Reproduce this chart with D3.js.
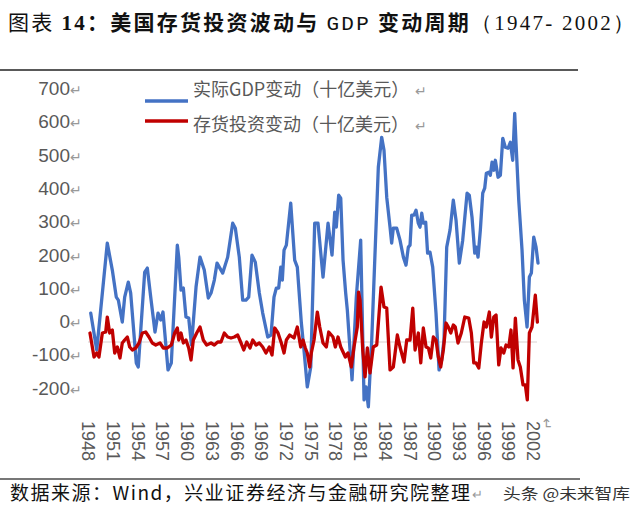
<!DOCTYPE html>
<html>
<head>
<meta charset="utf-8">
<script src="https://cdn.jsdelivr.net/npm/d3@7"></script>
<style>
  body { margin: 0; background: #fff; }
  svg { display: block; }
</style>
</head>
<body>
<svg id="chart" width="640" height="514"></svg>
<script>
// 实际GDP变动（十亿美元）
const gdpYears = [1948.33, 1949.06, 1950.34, 1950.95, 1951.43, 1951.68, 1952.16, 1952.45, 1952.89, 1953.18,
  1953.86, 1954.10, 1954.88, 1955.20, 1955.61, 1956.13, 1956.50, 1956.82, 1957.10, 1957.71,
  1958.11, 1958.84, 1959.01, 1959.29, 1959.57, 1959.89, 1960.22, 1960.56, 1961.11, 1961.59,
  1962.11, 1962.60, 1962.93, 1963.33, 1963.66, 1963.93, 1964.35, 1964.95, 1965.56, 1965.88,
  1966.36, 1966.77, 1967.17, 1967.50, 1967.90, 1968.30, 1968.79, 1969.20, 1969.81, 1970.21,
  1970.57, 1970.85, 1971.14, 1971.39, 1971.58, 1971.79, 1972.07, 1972.60, 1973.08, 1973.40,
  1973.89, 1974.21, 1974.61, 1975.03, 1975.51, 1975.91, 1976.52, 1977.13, 1977.61, 1977.94,
  1978.13, 1978.42, 1978.67, 1978.95, 1979.27, 1979.47, 1980.04, 1980.56, 1981.09, 1981.50,
  1981.74, 1982.02, 1982.43, 1982.83, 1983.23, 1983.64, 1983.92, 1984.25, 1984.65, 1984.85,
  1985.05, 1985.46, 1985.86, 1986.27, 1986.59, 1986.87, 1987.08, 1987.28, 1987.56, 1987.81,
  1988.08, 1988.29, 1988.50, 1988.69, 1988.98, 1989.21, 1989.50, 1989.83, 1990.23, 1990.60,
  1990.92, 1991.20, 1991.53, 1991.93, 1992.33, 1992.66, 1993.06, 1993.47, 1994.00, 1994.27,
  1994.60, 1994.93, 1995.12, 1995.33, 1995.61, 1995.90, 1996.14, 1996.34, 1996.63, 1996.82,
  1997.03, 1997.24, 1997.43, 1997.76, 1998.04, 1998.33, 1998.64, 1998.97, 1999.25, 1999.54,
  1999.78, 1999.94, 2000.27, 2000.67, 2000.95, 2001.28, 2001.56, 2001.80, 2002.09, 2002.37,
  2002.61];
const gdpValues = [87, -24, 297, 216, 135, 126, 60, 135, 180, 147,
  -63, -75, 210, 222, 135, 30, 87, 66, 90, -84,
  -63, 291, 255, 156, 162, 75, 72, -9, 165, 255,
  216, 132, 147, 186, 237, 225, 207, 255, 357, 342,
  255, 126, 126, 135, 261, 240, 147, 87, 15, 21,
  135, 162, 162, 225, 186, 276, 291, 417, 246, 225,
  57, -24, -135, -75, 357, 357, 195, 357, 261, 390,
  345, 441, 432, 246, 147, 96, -114, 135, 306, -174,
  -135, -195, 6, 267, 525, 615, 576, 435, 345, 297,
  342, 342, 306, 255, 231, 285, 291, 381, 381, 396,
  357, 345, 387, 357, 360, 267, 270, 225, 87, -84,
  -54, 6, 285, 336, 426, 366, 237, 306, 447, 441,
  375, 267, 285, 255, 336, 447, 462, 507, 510, 501,
  540, 516, 546, 495, 501, 612, 585, 582, 600, 546,
  687, 597, 426, 276, 126, 45, 195, 207, 315, 285,
  237];

// 存货投资变动（十亿美元）
const invYears = [1948.24, 1948.73, 1949.06, 1949.33, 1949.74, 1950.15, 1950.34, 1950.63, 1950.95, 1951.24,
  1951.56, 1951.88, 1952.16, 1952.45, 1952.77, 1953.06, 1953.38, 1953.79, 1954.19, 1954.59,
  1955.00, 1955.40, 1955.80, 1956.22, 1956.74, 1957.14, 1957.62, 1958.11, 1958.52, 1958.84,
  1959.01, 1959.29, 1959.57, 1959.89, 1960.22, 1960.50, 1960.78, 1961.19, 1961.59, 1961.99,
  1962.40, 1962.93, 1963.33, 1963.74, 1964.14, 1964.54, 1964.95, 1965.35, 1965.76, 1966.17,
  1966.57, 1966.90, 1967.26, 1967.66, 1967.99, 1968.39, 1968.79, 1969.20, 1969.60, 1970.00,
  1970.33, 1970.66, 1971.06, 1971.46, 1971.79, 1972.07, 1972.48, 1973.00, 1973.40, 1973.81,
  1974.09, 1974.37, 1974.61, 1974.90, 1975.10, 1975.43, 1975.83, 1976.12, 1976.52, 1976.92,
  1977.21, 1977.73, 1978.01, 1978.34, 1978.67, 1978.95, 1979.23, 1979.55, 1979.95, 1980.28,
  1980.68, 1980.83, 1981.01, 1981.34, 1981.62, 1981.90, 1982.22, 1982.62, 1983.04, 1983.56,
  1983.92, 1984.25, 1984.65, 1985.05, 1985.54, 1985.86, 1986.35, 1986.68, 1987.08, 1987.41,
  1987.69, 1988.09, 1988.38, 1988.69, 1989.02, 1989.30, 1989.59, 1989.91, 1990.23, 1990.51,
  1990.80, 1991.12, 1991.45, 1991.73, 1992.02, 1992.33, 1992.57, 1992.90, 1993.30, 1993.72,
  1994.20, 1994.52, 1994.81, 1995.09, 1995.42, 1995.73, 1996.06, 1996.34, 1996.70, 1996.95,
  1997.24, 1997.52, 1997.84, 1998.12, 1998.45, 1998.73, 1999.06, 1999.33, 1999.58, 1999.86,
  2000.18, 2000.46, 2000.79, 2001.07, 2001.31, 2001.56, 2001.88, 2002.28, 2002.53];
const invValues = [27, -45, -33, -45, 27, 30, 75, 27, 36, -33,
  -15, -48, -3, 6, 15, -15, -24, -18, -3, 27,
  30, 15, -3, -9, -3, -18, -18, -9, 27, 42,
  6, 27, -3, 6, -18, -54, 6, 27, 45, 6,
  -9, -3, -9, 0, 0, 27, 15, 12, 15, 21,
  -3, -24, 0, -18, 6, -9, -3, -15, -33, -15,
  -39, 42, 27, -3, -33, 6, 21, 12, 45, -15,
  6, -18, -33, -75, -33, 6, 90, 45, -3, -15,
  30, 15, -15, 15, -15, -30, -45, -33, -75, -15,
  45, 150, 126, -24, -105, -18, -93, -15, -9, 165,
  105, 102, -84, -75, 21, -15, -60, 6, 6, 102,
  -24, 27, -63, 42, -15, -18, -48, 15, 6, -45,
  -75, -24, 57, 45, 27, 51, 45, -3, 27, 75,
  72, 27, -63, -63, -78, -3, 60, 45, 90, 15,
  75, 81, -69, -18, -33, -9, -15, 36, -78, 72,
  -54, -75, -129, -129, -174, 27, 45, 141, 60];

const yTicks = [-200, -100, 0, 100, 200, 300, 400, 500, 600, 700];
const xTicks = [1948, 1951, 1954, 1957, 1960, 1963, 1966, 1969, 1972, 1975,
  1978, 1981, 1984, 1987, 1990, 1993, 1996, 1999, 2002];
const seriesNames = ["实际GDP变动（十亿美元）", "存货投资变动（十亿美元）"];
const seriesColors = ["#4472c4", "#c00000"];

const svg = d3.select("#chart");
const cjk = "'Noto Sans CJK SC', 'Noto Sans', sans-serif";
const labelColor = "#595959";

const x = d3.scaleLinear().domain([1948, 2002]).range([88, 533]);
const y = d3.scaleLinear().domain([0, 700]).range([342, 109]);

// title
const title = svg.append("text")
  .attr("x", 8).attr("y", 30)
  .attr("font-family", cjk).attr("font-size", 21)
  .attr("font-weight", "bold").attr("fill", "#111")
  .attr("textLength", 626).attr("lengthAdjust", "spacing");
title.append("tspan").attr("font-weight", "normal").text("图表 ");
title.append("tspan").attr("font-family", "'Liberation Serif', serif").text("14");
title.append("tspan").text("：美国存货投资波动与 ");
title.append("tspan").attr("font-family", "'Liberation Mono', monospace").attr("font-weight", "normal").text("GDP");
title.append("tspan").text(" 变动周期");
title.append("tspan").attr("font-family", "'Liberation Serif', serif").attr("font-weight", "normal").text("（1947- 2002）");

svg.append("line")
  .attr("x1", 0).attr("x2", 578).attr("y1", 70).attr("y2", 70)
  .attr("stroke", "#222").attr("stroke-width", 1.5);

// zero line
svg.append("line")
  .attr("x1", 88).attr("x2", 537).attr("y1", y(0)).attr("y2", y(0))
  .attr("stroke", "#d9d0d0").attr("stroke-width", 1);

// y axis (labels sit a little above their values, as in the source)
const yAxis = svg.append("g")
  .attr("transform", "translate(82,-21)")
  .call(d3.axisLeft(y).tickValues(yTicks).tickSize(0).tickPadding(0).tickFormat(d => d));
yAxis.select(".domain").remove();
yAxis.selectAll("text")
  .attr("font-family", "'Liberation Sans', Arial, sans-serif")
  .attr("font-size", 19).attr("fill", labelColor)
  .attr("dy", "0.35em")
  .append("tspan").attr("font-size", 14).attr("fill", "#999").text("↵");

// x axis, rotated labels
const xAxis = svg.append("g")
  .attr("transform", "translate(0,421)")
  .call(d3.axisBottom(x).tickValues(xTicks).tickSize(0).tickFormat(d => d));
xAxis.select(".domain").remove();
xAxis.selectAll("text")
  .attr("font-family", "'Liberation Sans', Arial, sans-serif")
  .attr("font-size", 18).attr("fill", labelColor)
  .attr("y", 0).attr("dy", "0.35em")
  .attr("text-anchor", "start")
  .attr("transform", "rotate(90)");

svg.append("text")
  .attr("transform", "translate(542,418) rotate(90)")
  .attr("font-size", 14).attr("fill", "#999").text("↵");

// series
const line = d3.line().x(d => x(d[0])).y(d => y(d[1]));
const gdp = d3.zip(gdpYears, gdpValues);
const inv = d3.zip(invYears, invValues);
[gdp, inv].forEach((s, i) => {
  svg.append("path").datum(s)
    .attr("d", line)
    .attr("fill", "none")
    .attr("stroke", seriesColors[i])
    .attr("stroke-width", 3.3)
    .attr("stroke-linejoin", "round")
    .attr("stroke-linecap", "round");
});

// legend
const legendY = [101, 121];
const legendTextY = [96, 131];
seriesNames.forEach((name, i) => {
  svg.append("line")
    .attr("x1", 145).attr("x2", 188)
    .attr("y1", legendY[i]).attr("y2", legendY[i])
    .attr("stroke", seriesColors[i]).attr("stroke-width", 3.5);
  const t = svg.append("text")
    .attr("x", 193).attr("y", legendTextY[i])
    .attr("font-family", cjk).attr("font-size", 18).attr("fill", labelColor)
    .text(name);
  t.append("tspan").attr("dx", 6).attr("font-size", 14).attr("fill", "#999").text("↵");
});

// footer
svg.append("line")
  .attr("x1", 0).attr("x2", 580).attr("y1", 479).attr("y2", 479)
  .attr("stroke", "#777").attr("stroke-width", 2);

svg.append("text")
  .attr("x", 10).attr("y", 500)
  .attr("font-family", cjk).attr("font-size", 19).attr("fill", "#111")
  .attr("textLength", 460).attr("lengthAdjust", "spacing")
  .text("数据来源：Wind，兴业证券经济与金融研究院整理");
svg.append("text")
  .attr("x", 472).attr("y", 499)
  .attr("font-size", 13).attr("fill", "#999").text("↵");

svg.append("text")
  .attr("x", 503).attr("y", 499)
  .attr("font-family", cjk).attr("font-size", 15).attr("fill", "#333")
  .attr("textLength", 127).attr("lengthAdjust", "spacingAndGlyphs")
  .text("头条 @未来智库");
</script>
</body>
</html>
